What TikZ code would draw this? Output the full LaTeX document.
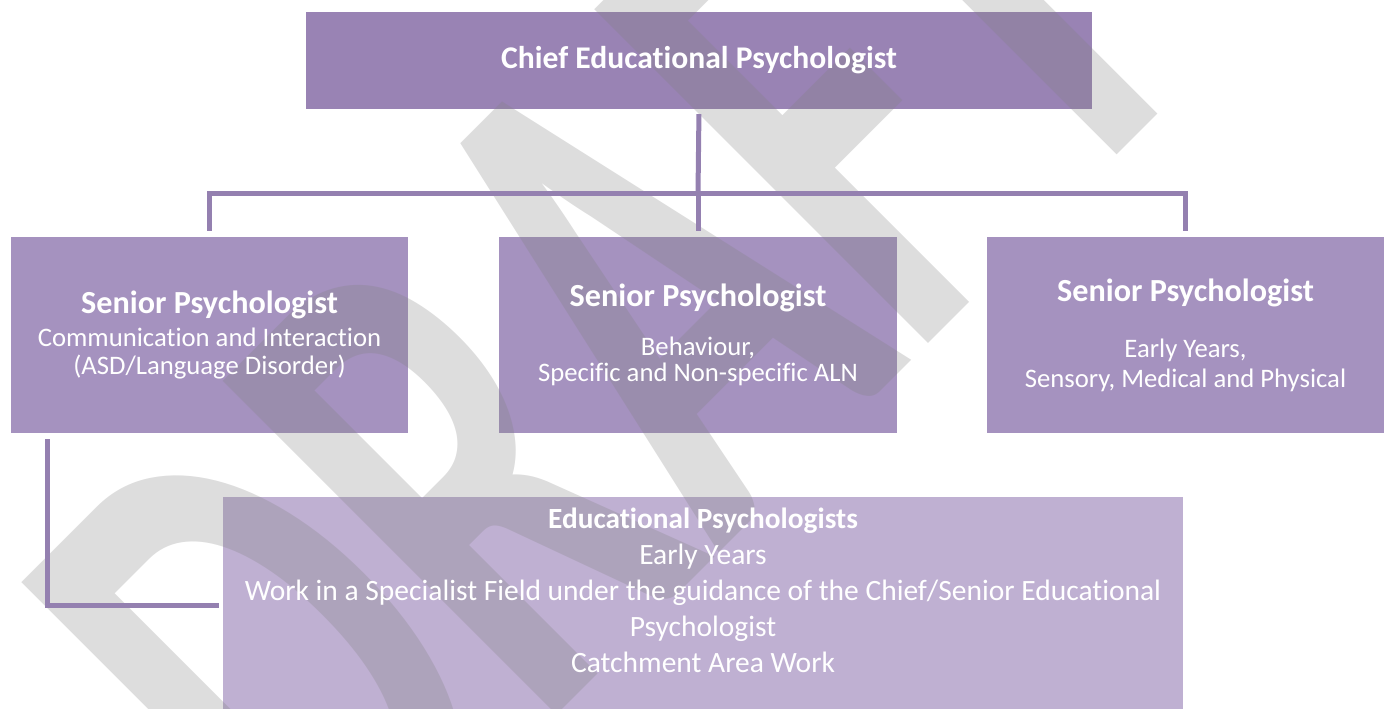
\documentclass[tikz,border=0pt]{standalone}
\usepackage{fontspec}
\setmainfont{Carlito}[Ligatures=NoCommon]
\newfontfamily\wmfont{Carlito}
\usepackage{xcolor}
\usetikzlibrary{positioning}

\definecolor{chiefpurple}{HTML}{9983B4}
\definecolor{seniorpurple}{HTML}{A592BF}
\definecolor{eppurple}{HTML}{BFB0D2}
\definecolor{linkpurple}{HTML}{9480B0}

\pgfdeclarelayer{boxes}
\pgfdeclarelayer{mark}
\pgfsetlayers{boxes,mark,main}

\newcommand{\chieffont}{\bfseries\fontsize{31.6}{28}\selectfont}
\newcommand{\titlefont}{\bfseries\fontsize{32.2}{28}\selectfont}
\newcommand{\bodyfont}{\fontsize{26.7}{28}\selectfont}
\newcommand{\epfont}{\fontsize{29.5}{36}\selectfont}

\tikzset{
  orgbox/.style={inner sep=0pt, text=white, align=center},
  seniorbox/.style={orgbox, minimum width=397pt, minimum height=196pt, font=\bodyfont},
  link/.style={draw=linkpurple, line width=5pt}
}

\begin{document}
\begin{tikzpicture}[x=1pt,y=-1pt]
\useasboundingbox (0,0) rectangle (1389,709);

\node[orgbox, minimum width=786pt, minimum height=97pt, font=\chieffont] (chief) at (699,60.5) {Chief Educational Psychologist};

\node[seniorbox] (sen1) at (209.5,335) {{\titlefont Senior Psychologist}\\[5pt] Communication and Interaction\\ (ASD/Language Disorder)};
\node[seniorbox] (sen2) at (698,335) {{\titlefont Senior Psychologist}\\[21pt] Behaviour,\\[-2pt] Specific and Non-specific ALN};
\node[seniorbox] (sen3) at (1185.5,335) {{\titlefont Senior Psychologist}\\[28pt] Early Years,\\[2pt] Sensory, Medical and Physical};

\node[orgbox, minimum width=960pt, minimum height=216pt, font=\epfont] (ep) at (703,605) {{\bfseries\fontsize{29.3}{36}\selectfont Educational Psychologists}\\ Early Years\\ Work in a Specialist Field under the guidance of the Chief/Senior Educational\\ Psychologist\\ Catchment Area Work\\[-6.5pt]\mbox{}};

\begin{pgfonlayer}{boxes}
\foreach \n/\c in {chief/chiefpurple, sen1/seniorpurple, sen2/seniorpurple, sen3/seniorpurple, ep/eppurple}
  \fill[\c] (\n.north west) rectangle (\n.south east);
\end{pgfonlayer}

\begin{pgfonlayer}{mark}
\node[rotate=45, xscale=0.62, anchor=base west, inner sep=0pt, text=black!50, text opacity=0.27, font=\wmfont\bfseries\fontsize{728}{728}\selectfont] (draft) at (337.5,934.5) {DRAFT};
\end{pgfonlayer}

\coordinate (bus) at (698,193);
\draw[link, shorten <=5pt] (chief.south) -- (bus);
\draw[link, shorten <=6pt, shorten >=6pt] (sen1.north) -- (sen1.north |- bus) -- (sen3.north |- bus) -- (sen3.north);
\draw[link, shorten >=6pt] (bus) -- (sen2.north);
\draw[link, shorten <=6pt, shorten >=4pt] ([xshift=37pt]sen1.south west) |- (ep.west);
\end{tikzpicture}
\end{document}
